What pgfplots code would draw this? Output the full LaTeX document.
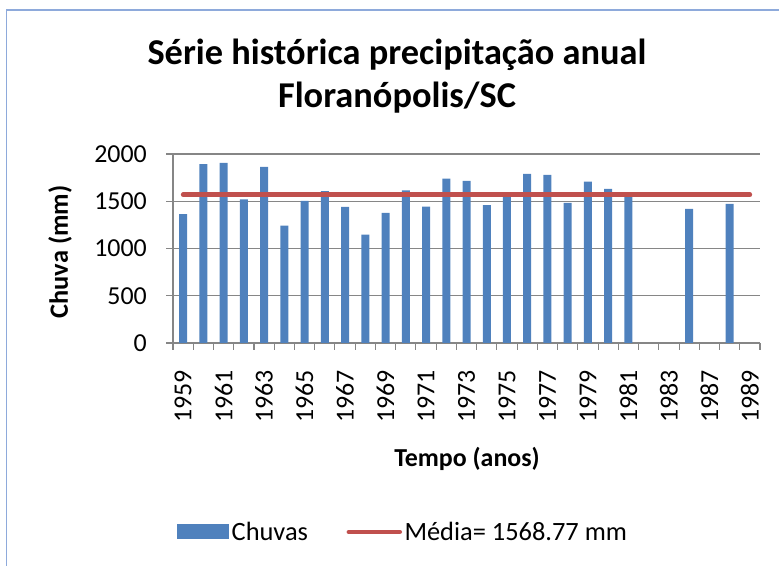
\documentclass[border=0pt]{standalone}
\usepackage{fontspec}
\setmainfont{Carlito}
\usepackage{pgfplots}
\pgfplotsset{compat=1.18}
\definecolor{barblue}{HTML}{4F81BD}
\definecolor{linered}{HTML}{C0504D}
\definecolor{axgray}{HTML}{868686}
\definecolor{framebl}{HTML}{8EAADB}
\begin{document}
\begin{tikzpicture}[x=1bp,y=1bp]
\useasboundingbox (0,0) rectangle (779,566);
\draw[framebl, line width=1.2bp] (6.5,-5) -- (6.5,556) -- (790,556);
\node[font=\fontsize{36.5}{40}\selectfont\bfseries, anchor=base, inner sep=0pt] at (397,501) {Série histórica precipitação anual};
\node[font=\fontsize{36.5}{40}\selectfont\bfseries, anchor=base, inner sep=0pt] at (397,458) {Floranópolis/SC};
\node[font=\fontsize{26}{30}\selectfont\bfseries, anchor=base, inner sep=0pt] at (467,99) {Tempo (anos)};
\node[font=\fontsize{26.5}{30}\selectfont\bfseries, rotate=90, inner sep=0pt] at (60,314) {Chuva (mm)};
\begin{axis}[
  at={(173bp,223bp)}, anchor=south west,
  scale only axis, width=587bp, height=189bp,
  xmin=-0.5, xmax=28.5, ymin=0, ymax=2000,
  ytick={0,500,1000,1500,2000},
  xtick={-0.5,0.5,...,28.5}, xticklabels={},
  extra x ticks={0,2,4,6,8,10,12,14,16,18,20,22,24,26,28},
  extra x tick labels={1959,1961,1963,1965,1967,1969,1971,1973,1975,1977,1979,1981,1983,1987,1989},
  extra x tick style={major tick length=0pt, grid=none},
  axis lines*=left,
  tick align=outside,
  major tick length=7bp,
  ymajorgrids,
  major grid style={axgray, line width=1.3bp},
  axis line style={axgray, line width=1.3bp},
  every tick/.style={axgray, line width=1.1bp},
  scaled y ticks=false,
  /pgf/number format/1000 sep={},
  /pgf/number format/assume math mode=true,
  tick label style={font=\fontsize{26}{30}\selectfont, text=black},
  yticklabel style={anchor=east, inner sep=0pt, xshift=-19bp},
  xticklabel style={yshift=-27bp, rotate=90, anchor=east, inner sep=0pt},
  legend style={at={(0.0068,-1.0)}, anchor=west, draw=none, fill=none, inner sep=0pt,
    legend columns=2, font=\fontsize{26.5}{30}\selectfont,
    /tikz/every even column/.append style={column sep=36bp},
    nodes={inner sep=2.5bp}},
  clip=false,
]
\addplot[ybar, bar width=8bp, fill=barblue, draw=none,
  legend image code/.code={\fill[barblue] (0bp,-7.5bp) rectangle (52bp,7.5bp);}]
  coordinates {
  (0,1363) (1,1894) (2,1905) (3,1521) (4,1863) (5,1243) (6,1503) (7,1606)
  (8,1440) (9,1148) (10,1377) (11,1616) (12,1444) (13,1739) (14,1715)
  (15,1458) (16,1546) (17,1789) (18,1778) (19,1482) (20,1708) (21,1630)
  (22,1546) (25,1419) (27,1472)
  };
\addlegendentry{Chuvas}
\addplot[linered, line width=4.5bp, line cap=round,
  legend image code/.code={\draw[linered, line width=4.5bp, line cap=round] (2bp,0bp) -- (53bp,0bp);}]
  coordinates {(0,1568.77) (28,1568.77)};
\addlegendentry{Média= 1568.77 mm}
\end{axis}
\end{tikzpicture}
\end{document}
